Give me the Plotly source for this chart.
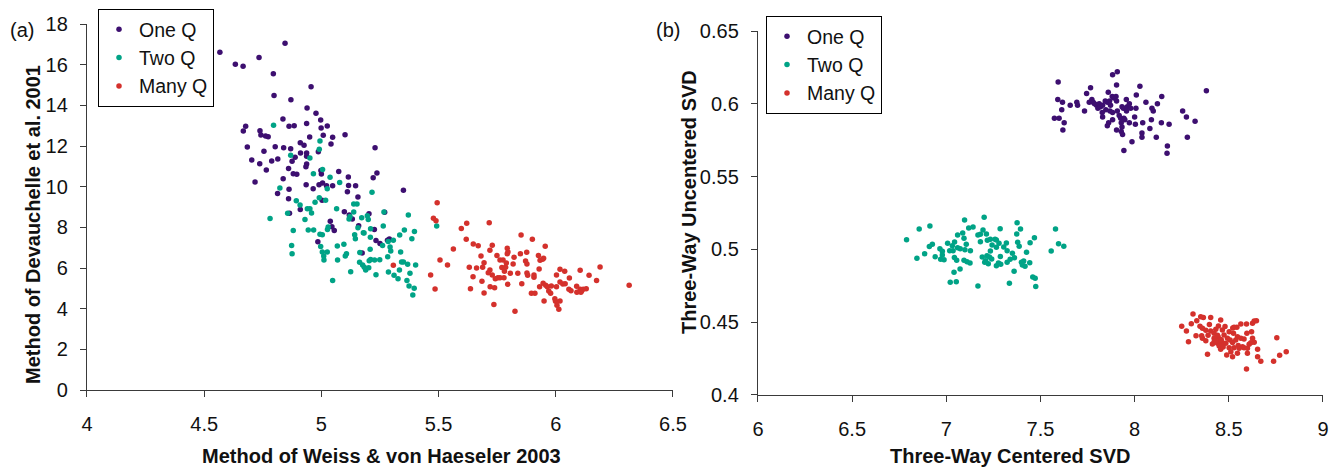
import plotly.graph_objects as go

# ---------------- data: panel (a) ----------------
one_a = [(4.567,16.61),(4.633,16.02),(4.666,15.92),(4.734,16.35),(4.845,17.05),(4.795,15.56),(4.798,14.49),
 (4.870,14.28),(4.956,14.92),(4.939,13.87),(4.977,13.61),(4.997,13.28),(4.836,13.33),(4.862,12.97),(4.884,13.00),
 (4.937,13.11),(4.999,12.89),(5.025,12.99),(4.677,12.97),(4.667,12.74),(4.738,12.75),(4.742,12.54),(4.762,12.49),
 (4.773,12.46),(4.684,11.95),(4.755,11.74),(4.803,11.97),(4.839,11.92),(4.869,11.87),(4.950,12.44),(5.008,12.53),
 (4.910,12.16),(4.926,12.04),(4.703,11.31),(4.737,11.13),(4.788,11.26),(4.814,11.36),(4.765,10.82),(4.717,10.23),
 (4.875,11.25),(4.888,11.45),(4.911,11.66),(4.937,11.66),(4.937,11.50),(4.987,11.72),(4.937,11.12),(4.934,10.98),
 (4.860,10.90),(4.880,10.64),(4.895,10.61),(4.837,10.39),(4.998,10.79),(5.000,10.62),(4.935,10.10),(4.965,9.90),
 (4.990,10.10),(5.005,10.18),(4.813,9.67),(4.860,9.41),(4.910,8.88),(4.864,8.69),(5.003,9.33),(5.101,12.56),
 (5.048,12.43),(5.041,12.10),(5.229,11.92),(5.237,10.67),(5.221,10.44),(5.074,10.75),(5.115,10.48),(5.350,9.82),
 (5.146,10.05),(5.116,10.06),(5.111,9.75),(5.156,9.49),(5.048,10.05),(5.022,10.05),(5.098,8.77),(5.119,8.61),
 (5.132,8.41),(5.203,8.67),(5.270,8.74),(5.038,8.30),(5.045,8.03),(5.055,7.84),(5.226,7.89),(5.159,8.08),
 (4.862,9.87),(4.985,7.29),(5.174,6.74),(5.233,7.35),(5.250,7.21),(5.290,7.43),(5.282,7.36)]

two_a = [(4.796,13.02),(4.869,11.54),(4.994,12.25),(4.991,11.84),(4.951,11.41),(5.005,10.84),(4.966,10.64),
 (5.037,10.46),(5.078,10.21),(5.025,9.90),(5.216,9.72),(4.823,9.94),(4.893,9.31),(4.909,9.10),(4.940,8.92),
 (4.951,8.92),(4.973,9.23),(4.991,9.46),(5.018,9.33),(4.958,8.71),(4.856,8.69),(4.930,8.38),(4.781,8.43),
 (5.065,8.92),(5.138,9.15),(5.152,9.15),(5.172,8.47),(5.196,8.57),(5.200,8.38),(5.267,8.76),(5.138,8.76),
 (5.118,8.41),(5.122,8.53),(5.371,8.61),(4.880,7.84),(4.944,7.87),(4.967,7.87),(4.994,7.66),(5.004,7.64),
 (5.026,7.90),(5.029,8.02),(5.156,7.98),(5.142,7.64),(5.179,7.74),(5.210,7.93),(5.264,8.07),(5.354,7.87),
 (5.397,7.79),(5.334,7.62),(5.386,7.44),(5.492,8.07),(4.873,7.11),(4.875,6.70),(4.997,7.06),(5.004,6.79),
 (5.025,6.79),(5.010,6.59),(5.011,6.39),(5.068,7.08),(5.096,7.17),(5.069,6.39),(5.102,6.59),(5.107,6.70),
 (5.145,7.44),(5.182,7.72),(5.209,7.51),(5.208,6.92),(5.164,6.76),(5.261,7.11),(5.293,7.03),(5.296,6.84),
 (5.285,7.31),(5.307,7.36),(5.338,6.79),(5.283,6.56),(5.210,6.42),(5.204,6.36),(5.227,6.39),(5.249,6.41),
 (5.176,6.15),(5.183,6.04),(5.189,5.90),(5.202,6.01),(5.125,5.82),(5.048,5.39),(5.233,5.67),(5.286,5.80),
 (5.310,5.64),(5.327,5.47),(5.333,5.90),(5.342,6.30),(5.350,6.30),(5.368,6.18),(5.402,6.15),(5.378,5.74),
 (5.365,5.39),(5.374,5.12),(5.396,5.00),(5.390,4.67),(5.163,6.28)]

many_a = [(5.494,9.21),(5.478,8.45),(5.489,8.33),(5.307,6.13),(5.506,6.39),(5.538,6.15),(5.466,5.66),(5.485,4.97),
 (5.563,6.94),(5.597,7.94),(5.620,8.20),(5.618,7.41),(5.716,8.23),(5.648,7.18),(5.669,7.10),(5.729,7.12),
 (5.681,6.59),(5.694,6.26),(5.688,6.04),(5.631,6.04),(5.662,6.00),(5.647,5.57),(5.685,5.35),(5.636,4.98),
 (5.694,4.77),(5.719,6.87),(5.749,6.62),(5.762,6.39),(5.775,6.39),(5.719,5.90),(5.712,5.77),(5.729,5.66),
 (5.742,5.47),(5.753,5.52),(5.762,5.52),(5.770,6.02),(5.781,5.84),(5.789,6.25),(5.786,6.04),(5.793,6.97),
 (5.796,6.79),(5.793,6.70),(5.822,6.53),(5.818,6.20),(5.806,5.74),(5.779,5.52),(5.720,5.08),(5.739,5.03),
 (5.795,5.20),(5.736,4.21),(5.826,3.87),(5.852,7.62),(5.849,6.70),(5.876,6.77),(5.871,6.35),(5.877,6.20),
 (5.838,5.74),(5.855,5.23),(5.877,5.75),(5.880,5.64),(5.907,5.66),(5.907,5.54),(5.900,7.41),(5.926,6.62),
 (5.933,6.38),(5.944,6.43),(5.948,6.48),(5.955,7.07),(5.929,5.95),(5.931,5.08),(5.946,5.25),(5.957,5.15),
 (5.896,4.76),(5.911,4.76),(5.950,4.38),(5.964,5.08),(5.970,4.87),(5.978,4.76),(5.981,5.12),(5.996,4.49),
 (5.999,4.36),(6.005,4.17),(6.013,3.97),(6.018,4.38),(6.003,5.66),(6.003,5.08),(6.018,5.94),(6.018,5.31),
 (6.030,5.21),(6.040,5.23),(6.038,5.84),(6.058,5.51),(6.056,4.95),(6.065,4.88),(6.089,5.10),(6.104,4.95),
 (6.110,4.87),(6.117,4.95),(6.130,4.98),(6.090,4.81),(6.107,4.81),(6.104,5.89),(6.142,5.64),(6.174,5.39),
 (6.189,6.05),(6.313,5.15)]

# ---------------- data: panel (b) ----------------
one_b = [(7.594,0.615),(7.883,0.620),(7.908,0.622),(7.904,0.613),(7.766,0.611),(7.745,0.607),(7.860,0.608),
 (8.028,0.612),(8.009,0.606),(8.144,0.605),(8.381,0.609),(7.592,0.603),(7.617,0.601),(7.613,0.596),(7.658,0.599),
 (7.693,0.601),(7.697,0.599),(7.734,0.595),(7.759,0.601),(7.773,0.603),(7.780,0.601),(7.787,0.600),(7.798,0.599),
 (7.805,0.597),(7.812,0.600),(7.819,0.598),(7.830,0.599),(7.844,0.602),(7.855,0.601),(7.867,0.602),(7.881,0.605),
 (7.890,0.604),(7.901,0.605),(7.904,0.602),(7.872,0.599),(7.847,0.596),(7.828,0.594),(7.830,0.591),(7.869,0.595),
 (7.883,0.594),(7.908,0.595),(7.933,0.598),(7.940,0.597),(7.956,0.603),(7.961,0.598),(7.972,0.600),(7.979,0.597),
 (8.007,0.597),(7.957,0.595),(7.918,0.592),(7.926,0.590),(7.943,0.590),(7.948,0.589),(7.929,0.587),(7.972,0.587),
 (8.000,0.591),(8.004,0.586),(7.862,0.587),(7.855,0.585),(7.883,0.589),(7.904,0.582),(7.929,0.581),(7.936,0.579),
 (8.043,0.587),(8.060,0.601),(8.092,0.597),(8.099,0.595),(8.121,0.600),(8.089,0.589),(8.081,0.583),(8.039,0.580),
 (8.039,0.577),(8.115,0.577),(7.986,0.574),(7.943,0.568),(8.142,0.587),(8.183,0.586),(8.174,0.571),(8.172,0.566),
 (8.255,0.595),(8.275,0.591),(8.321,0.588),(8.280,0.577),(7.574,0.590),(7.599,0.590),(7.626,0.587),(7.619,0.582),
 (7.933,0.584)]

two_b = [(6.789,0.5067),(6.856,0.514),(6.913,0.516),(6.844,0.494),(6.885,0.497),(6.910,0.502),(6.926,0.5035),
 (6.941,0.495),(6.966,0.5005),(6.979,0.4987),(6.970,0.4932),(6.988,0.4929),(6.979,0.4962),(7.007,0.5042),
 (7.018,0.4991),(7.036,0.4991),(7.032,0.5025),(7.044,0.5051),(7.060,0.5099),(7.087,0.5113),(7.094,0.5076),
 (7.097,0.5202),(7.119,0.5147),(7.142,0.5154),(7.060,0.5012),(7.074,0.5005),(7.099,0.4998),(7.106,0.5035),
 (7.128,0.4991),(7.043,0.4945),(7.055,0.4925),(7.094,0.4925),(7.110,0.4916),(7.126,0.4907),(7.041,0.4843),
 (7.073,0.4865),(7.021,0.4774),(7.053,0.4778),(7.168,0.4749),(7.168,0.5099),(7.181,0.5104),(7.195,0.5133),
 (7.213,0.5106),(7.201,0.5220),(7.181,0.5053),(7.218,0.5062),(7.234,0.5069),(7.243,0.5030),(7.259,0.5069),
 (7.266,0.5065),(7.280,0.5042),(7.266,0.5014),(7.234,0.4989),(7.286,0.5142),(7.305,0.5016),(7.319,0.5044),
 (7.323,0.4991),(7.191,0.4948),(7.216,0.4957),(7.229,0.4948),(7.241,0.4934),(7.209,0.4922),(7.204,0.4911),
 (7.223,0.4902),(7.266,0.4888),(7.277,0.4907),(7.289,0.4898),(7.287,0.4952),(7.323,0.4911),(7.339,0.4932),
 (7.351,0.4973),(7.362,0.4943),(7.376,0.5183),(7.394,0.5140),(7.374,0.5106),(7.379,0.5049),(7.387,0.5021),
 (7.426,0.4980),(7.399,0.4911),(7.411,0.4920),(7.404,0.4893),(7.418,0.4884),(7.443,0.4909),(7.445,0.5046),
 (7.468,0.5080),(7.360,0.4850),(7.335,0.4767),(7.459,0.4810),(7.472,0.4801),(7.475,0.4746),(7.557,0.4989),
 (7.580,0.5140),(7.596,0.5039),(7.624,0.5021)]

many_b = [(8.310,0.4556),(8.250,0.4472),(8.275,0.4440),(8.286,0.4366),(8.301,0.4490),(8.326,0.4407),(8.351,0.4538),
 (8.365,0.4533),(8.404,0.4533),(8.347,0.4472),(8.360,0.4458),(8.378,0.4444),(8.356,0.4407),(8.397,0.4485),
 (8.404,0.4440),(8.422,0.4424),(8.431,0.4451),(8.445,0.4474),(8.457,0.4515),(8.466,0.4446),(8.443,0.4400),
 (8.454,0.4382),(8.440,0.4355),(8.422,0.4364),(8.413,0.4350),(8.475,0.4412),(8.493,0.4389),(8.466,0.4359),
 (8.484,0.4355),(8.502,0.4435),(8.521,0.4460),(8.528,0.4465),(8.543,0.4465),(8.564,0.4488),(8.594,0.4488),
 (8.626,0.4492),(8.635,0.4508),(8.647,0.4510),(8.621,0.4435),(8.525,0.4424),(8.546,0.4400),(8.537,0.4378),
 (8.507,0.4378),(8.564,0.4389),(8.596,0.4424),(8.581,0.4385),(8.626,0.4389),(8.635,0.4362),(8.608,0.4348),
 (8.573,0.4332),(8.555,0.4321),(8.528,0.4325),(8.511,0.4297),(8.520,0.4263),(8.546,0.4286),(8.581,0.4325),
 (8.599,0.4286),(8.599,0.4321),(8.653,0.4314),(8.653,0.4263),(8.670,0.4231),(8.594,0.4179),(8.738,0.4231),
 (8.770,0.4273),(8.805,0.4297),(8.755,0.4394),(8.387,0.4279),(8.489,0.4275),(8.422,0.4389),(8.449,0.4337),
 (8.502,0.4325),(8.617,0.4359),(8.378,0.4373),(8.457,0.4314),(8.440,0.4410),(8.460,0.4380),(8.430,0.4370),
 (8.470,0.4330),(8.520,0.4360),(8.550,0.4340),(8.480,0.4470),(8.390,0.4410),(8.330,0.4510),(8.360,0.4390)]

series_names = ["One Q", "Two Q", "Many Q"]
series_colors = ["#3d0f70", "#00a386", "#d4312c"]

FONT = "Liberation Sans, Arial, Helvetica, sans-serif"
AXIS_COLOR = "#3a3a3a"

fig = go.Figure()

panel_a = [one_a, two_a, many_a]
panel_b = [one_b, two_b, many_b]
for name, color, pts in zip(series_names, series_colors, panel_a):
    fig.add_trace(go.Scatter(x=[p[0] for p in pts], y=[p[1] for p in pts], mode="markers",
                             name=name, marker=dict(color=color, size=5.5),
                             xaxis="x", yaxis="y", legend="legend"))
for name, color, pts in zip(series_names, series_colors, panel_b):
    fig.add_trace(go.Scatter(x=[p[0] for p in pts], y=[p[1] for p in pts], mode="markers",
                             name=name, marker=dict(color=color, size=5.5),
                             xaxis="x2", yaxis="y2", legend="legend2"))

axis_common = dict(showgrid=False, zeroline=False, showline=True, linecolor=AXIS_COLOR, linewidth=1.4,
                   ticks="outside", ticklen=6, tickwidth=1.2, tickcolor=AXIS_COLOR,
                   tickfont=dict(family=FONT, size=20, color="#111"), automargin=False, mirror=False)
xaxis_extra = dict(ticklabelstandoff=10)
yaxis_extra = dict(ticklabelstandoff=8)

fig.update_layout(
    width=1330, height=470,
    margin=dict(l=0, r=0, t=0, b=0),
    paper_bgcolor="white", plot_bgcolor="white",
    showlegend=True,
    xaxis=dict(domain=[0.0654, 0.5060], range=[4, 6.5], dtick=0.5, anchor="y", **axis_common, **xaxis_extra),
    yaxis=dict(domain=[0.1702, 0.9489], range=[0, 18], dtick=2, anchor="x", **axis_common, **yaxis_extra),
    xaxis2=dict(domain=[0.5699, 0.9947], range=[6, 9], dtick=0.5, anchor="y2", **axis_common, **xaxis_extra),
    yaxis2=dict(domain=[0.1596, 0.9340], range=[0.4, 0.65], dtick=0.05, anchor="x2", **axis_common, **yaxis_extra),
    legend=dict(x=98/1330, y=(470-9)/470, xanchor="left", yanchor="top", bgcolor="white",
                bordercolor="black", borderwidth=1, font=dict(family=FONT, size=19.5, color="#111"),
                itemsizing="trace"),
    legend2=dict(x=766/1330, y=(470-16)/470, xanchor="left", yanchor="top", bgcolor="white",
                 bordercolor="black", borderwidth=1, font=dict(family=FONT, size=19.5, color="#111"),
                 itemsizing="trace"),
)

title_font = dict(family=FONT, size=20, color="#111")
annotations = [
    dict(text="<b>Method of Weiss &amp; von Haeseler 2003</b>", x=382/1330, y=(470-456)/470,
         xref="paper", yref="paper", showarrow=False, xanchor="center", yanchor="middle", font=title_font),
    dict(text="<b>Method of Devauchelle et al. 2001</b>", x=33/1330, y=(470-225)/470, textangle=-90,
         xref="paper", yref="paper", showarrow=False, xanchor="center", yanchor="middle", font=title_font),
    dict(text="<b>Three-Way Centered SVD</b>", x=1010/1330, y=(470-456)/470,
         xref="paper", yref="paper", showarrow=False, xanchor="center", yanchor="middle", font=title_font),
    dict(text="<b>Three-Way Uncentered SVD</b>", x=689/1330, y=(470-202)/470, textangle=-90,
         xref="paper", yref="paper", showarrow=False, xanchor="center", yanchor="middle", font=title_font),
    dict(text="(a)", x=22/1330, y=(470-30)/470, xref="paper", yref="paper", showarrow=False,
         xanchor="center", yanchor="middle", font=dict(family=FONT, size=20, color="#111")),
    dict(text="(b)", x=668/1330, y=(470-30)/470, xref="paper", yref="paper", showarrow=False,
         xanchor="center", yanchor="middle", font=dict(family=FONT, size=20, color="#111")),
]
fig.update_layout(annotations=annotations)

fig.write_html("out.html")
